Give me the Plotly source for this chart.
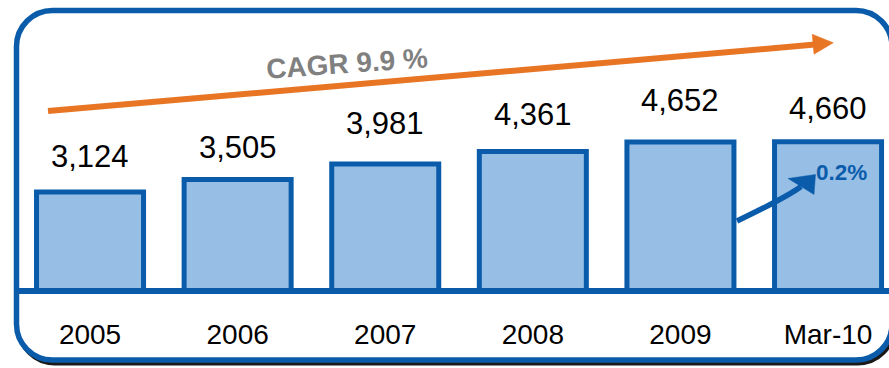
import plotly.graph_objects as go

# Data
categories = ["2005", "2006", "2007", "2008", "2009", "Mar-10"]
values = [3124, 3505, 3981, 4361, 4652, 4660]
cagr_label = "CAGR 9.9 %"
growth_label = "0.2%"

# Vertical offset (px) of each value label above its bar
label_shift = [36, 32, 40.5, 37.5, 42, 33.5]

BLUE = "#0A5CAB"
FILL = "#97BFE6"
ORANGE = "#E87524"
GREY = "#808080"
FONT = "Liberation Sans, Arial, sans-serif"

W, H = 889, 368


def px(x):
    """Horizontal pixel -> paper fraction."""
    return x / W


def py(y):
    """Vertical pixel (from top) -> paper fraction."""
    return 1 - y / H


def path(cmds):
    """Build an SVG path in paper units from (command, [(x, y), ...]) pixel tuples."""
    out = []
    for cmd, pts in cmds:
        coords = " ".join(f"{px(x):.5f},{py(y):.5f}" for x, y in pts)
        out.append(f"{cmd} {coords}".strip())
    return " ".join(out)


def rounded_rect(x0, y0, x1, y1, r):
    k = 0.5523 * r
    return path([
        ("M", [(x0 + r, y0)]),
        ("L", [(x1 - r, y0)]),
        ("C", [(x1 - r + k, y0), (x1, y0 + r - k), (x1, y0 + r)]),
        ("L", [(x1, y1 - r)]),
        ("C", [(x1, y1 - r + k), (x1 - r + k, y1), (x1 - r, y1)]),
        ("L", [(x0 + r, y1)]),
        ("C", [(x0 + r - k, y1), (x0, y1 - r + k), (x0, y1 - r)]),
        ("L", [(x0, y0 + r)]),
        ("C", [(x0, y0 + r - k), (x0 + r - k, y0), (x0 + r, y0)]),
        ("Z", []),
    ])


fig = go.Figure()

fig.add_trace(go.Bar(
    x=categories,
    y=values,
    width=0.725,
    marker=dict(color=FILL, line=dict(color=BLUE, width=5)),
    hoverinfo="skip",
    showlegend=False,
))

# Value labels above bars (category index as x position)
for i, (val, dy) in enumerate(zip(values, label_shift)):
    fig.add_annotation(
        x=i, y=val, xref="x", yref="y",
        text=f"{val:,}", showarrow=False,
        xanchor="center", yanchor="middle", yshift=dy,
        font=dict(family=FONT, size=31, color="#000000"),
    )

shapes = []

# Rounded frame with a drop shadow
shapes.append(dict(
    type="path", xref="paper", yref="paper", layer="below",
    path=rounded_rect(18.5, 13.5, 894, 363.5, 36),
    line=dict(color="#1a1a1a", width=4), fillcolor="rgba(0,0,0,0)",
))
shapes.append(dict(
    type="path", xref="paper", yref="paper", layer="below",
    path=rounded_rect(16.5, 10.5, 892, 360, 36),
    line=dict(color=BLUE, width=5.5), fillcolor="#FFFFFF",
))

# Baseline across the frame
shapes.append(dict(
    type="line", xref="paper", yref="paper", layer="above",
    x0=px(16.5), x1=px(892), y0=py(291), y1=py(291),
    line=dict(color=BLUE, width=6),
))

# Orange CAGR arrow
shapes.append(dict(
    type="line", xref="paper", yref="paper", layer="above",
    x0=px(48), y0=py(111), x1=px(815), y1=py(44.6),
    line=dict(color=ORANGE, width=6),
))
shapes.append(dict(
    type="path", xref="paper", yref="paper", layer="above",
    path=path([("M", [(812.2, 34.2)]), ("L", [(833.3, 42.8)]),
               ("L", [(814.0, 54.2)]), ("Z", [])]),
    line=dict(color=ORANGE, width=0.5), fillcolor=ORANGE,
))

# Blue growth arrow from 2009 to Mar-10
shapes.append(dict(
    type="path", xref="paper", yref="paper", layer="above",
    path=path([("M", [(737, 221)]), ("Q", [(787.6, 196.7), (801, 186.5)])]),
    line=dict(color=BLUE, width=5.5), fillcolor="rgba(0,0,0,0)",
))
shapes.append(dict(
    type="path", xref="paper", yref="paper", layer="above",
    path=path([("M", [(788, 178.5)]), ("L", [(815.5, 174.5)]),
               ("L", [(814, 194.5)]), ("Z", [])]),
    line=dict(color=BLUE, width=0.5), fillcolor=BLUE,
))

fig.add_annotation(
    x=px(347), y=py(63), xref="paper", yref="paper",
    text=f"<b>{cagr_label}</b>", showarrow=False, textangle=-4,
    xanchor="center", yanchor="middle",
    font=dict(family=FONT, size=28, color=GREY),
)
fig.add_annotation(
    x=px(841), y=py(173), xref="paper", yref="paper",
    text=f"<b>{growth_label}</b>", showarrow=False,
    xanchor="center", yanchor="middle",
    font=dict(family=FONT, size=22.5, color=BLUE),
)

fig.update_layout(
    width=W, height=H,
    margin=dict(l=0, r=0, t=0, b=0),
    paper_bgcolor="#FFFFFF",
    plot_bgcolor="rgba(0,0,0,0)",
    shapes=shapes,
    xaxis=dict(
        type="category", categoryorder="array", categoryarray=categories,
        domain=[0, 1], range=[-0.61, 5.413],
        showgrid=False, zeroline=False, showline=False,
        ticks="outside", ticklen=15, tickcolor="rgba(0,0,0,0)",
        tickfont=dict(family=FONT, size=28, color="#000000"),
        fixedrange=True,
    ),
    yaxis=dict(
        domain=[(H - 294) / H, 1], range=[0, 294 / 0.03265],
        visible=False, fixedrange=True,
    ),
    showlegend=False,
)

fig.write_html("out.html", config={"displayModeBar": False})
